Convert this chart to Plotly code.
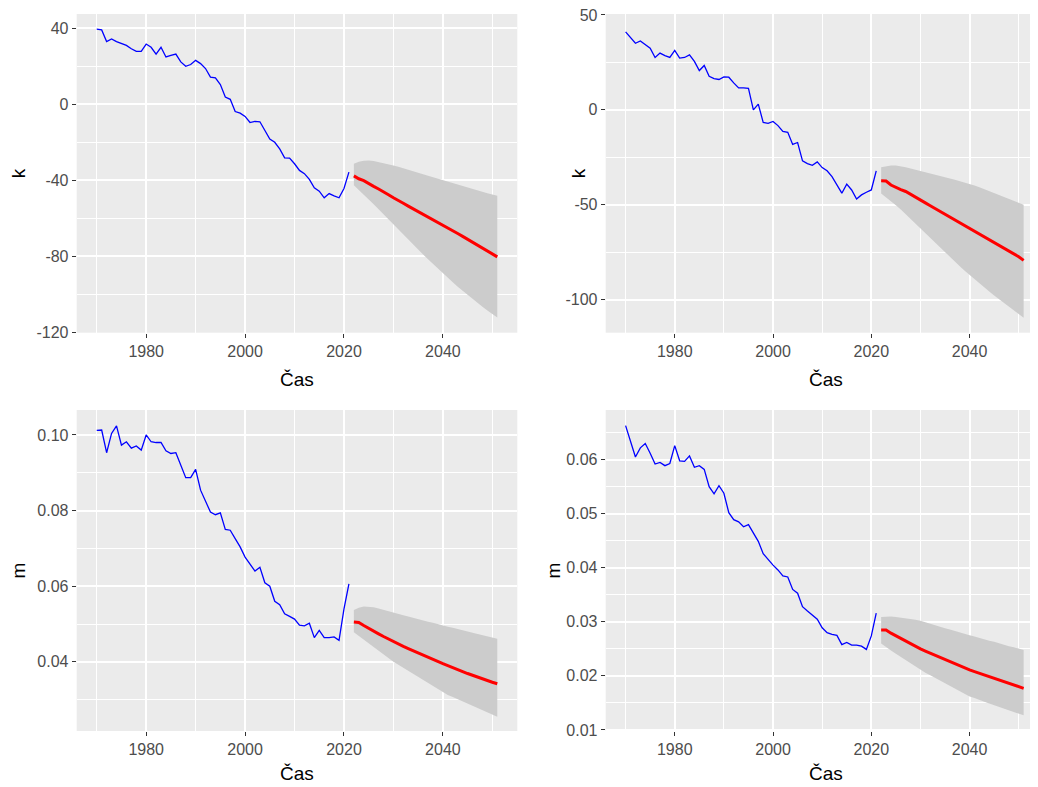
import plotly.graph_objects as go

# ---------------- data ----------------
years_hist = list(range(1970, 2022))
years_fc = list(range(2022, 2052))

k1_hist = [39.5, 39.1, 33.0, 34.4, 33.0, 32.2, 31.0, 29.2, 27.8, 27.8,
           31.7, 30.0, 26.4, 30.0, 24.9, 25.7, 26.4, 22.3, 20.0, 20.9,
           23.1, 21.4, 18.8, 14.3, 13.9, 10.4, 3.8, 2.6, -3.8, -4.7,
           -6.4, -9.6, -9.0, -9.2, -13.9, -18.3, -20.0, -23.5, -28.2, -28.3,
           -31.3, -34.8, -36.5, -39.5, -44.0, -45.7, -49.2, -47.0, -48.2, -49.2,
           -44.3, -35.7]
k1_fc = [-37.7, -39.2, -40.2, -41.9, -43.2, -44.6, -46.3, -47.6, -49.2, -50.5,
         -52.1, -53.6, -55.0, -56.6, -57.9, -59.5, -60.8, -62.3, -63.5, -65.0,
         -66.6, -68.0, -69.5, -71.0, -72.4, -74.0, -75.5, -76.9, -78.6, -80.3]
k1_hi = [-31.3, -30.2, -29.7, -29.6, -29.9, -30.4, -31.0, -31.6, -32.2, -32.9,
         -33.6, -34.4, -35.2, -36.0, -36.8, -37.6, -38.4, -39.2, -40.0, -40.8,
         -41.5, -42.3, -43.0, -43.8, -44.5, -45.3, -46.0, -46.8, -47.5, -48.2]
k1_lo = [-42.6, -45.0, -47.5, -50.0, -52.6, -55.2, -57.9, -60.6, -63.3, -66.0,
         -68.6, -71.2, -73.8, -76.4, -79.0, -81.6, -84.1, -86.6, -89.0, -91.4,
         -93.7, -96.0, -98.2, -100.4, -102.5, -104.6, -106.6, -108.5, -110.4, -112.2]

k2_hist = [41.1, 38.0, 35.1, 36.3, 34.5, 32.5, 27.6, 29.9, 28.6, 27.6,
           31.3, 27.3, 27.6, 29.0, 25.5, 20.7, 23.4, 17.7, 16.5, 16.0,
           17.4, 17.2, 14.2, 11.6, 11.6, 11.3, 0.0, 3.0, -6.6, -7.1,
           -6.1, -8.3, -11.3, -11.8, -18.2, -17.2, -26.9, -28.3, -29.2, -27.4,
           -30.4, -32.1, -35.2, -39.6, -43.9, -39.1, -42.2, -47.0, -44.8, -43.4,
           -42.2, -32.1]
k2_fc = [-37.4, -37.5, -39.6, -40.9, -42.0, -43.0, -44.6, -46.0, -47.6, -49.0,
         -50.5, -52.0, -53.4, -55.0, -56.4, -58.0, -59.4, -60.9, -62.3, -63.8,
         -65.3, -66.7, -68.2, -69.7, -71.2, -72.6, -74.1, -75.6, -77.4, -79.3]
k2_hi = [-30.2, -29.6, -29.3, -29.3, -29.7, -30.2, -30.9, -31.5, -32.2, -32.8,
         -33.5, -34.1, -34.8, -35.5, -36.1, -36.8, -37.5, -38.1, -38.8, -39.8,
         -40.8, -41.8, -42.8, -43.8, -44.8, -45.9, -46.9, -47.9, -48.9, -50.0]
k2_lo = [-44.0, -46.0, -48.0, -50.2, -52.5, -55.0, -57.6, -60.2, -62.9, -65.4,
         -67.9, -70.4, -72.8, -75.2, -77.6, -80.0, -82.4, -84.7, -87.0, -89.3,
         -91.5, -93.6, -95.7, -97.8, -99.8, -101.8, -103.8, -105.7, -107.6, -109.5]

m1_hist = [0.1012, 0.1013, 0.0953, 0.1004, 0.1024, 0.0973, 0.0982, 0.0965, 0.0971, 0.0960,
           0.1000, 0.0982, 0.0980, 0.0980, 0.0958, 0.0951, 0.0953, 0.0920, 0.0887, 0.0887,
           0.0909, 0.0854, 0.0827, 0.0796, 0.0789, 0.0794, 0.0750, 0.0748, 0.0726, 0.0704,
           0.0677, 0.0659, 0.0640, 0.0650, 0.0609, 0.0600, 0.0560, 0.0551, 0.0527, 0.0520,
           0.0513, 0.0497, 0.0495, 0.0502, 0.0464, 0.0483, 0.0464, 0.0464, 0.0466, 0.0457,
           0.0540, 0.0606]
m1_fc = [0.0505, 0.0504, 0.0496, 0.0488, 0.0481, 0.0474, 0.0467, 0.0460, 0.0453, 0.0447,
         0.0441, 0.0435, 0.0429, 0.0423, 0.0417, 0.0411, 0.0405, 0.0400, 0.0395, 0.0390,
         0.0384, 0.0379, 0.0374, 0.0369, 0.0364, 0.0359, 0.0355, 0.0350, 0.0346, 0.0342]
m1_hi = [0.0537, 0.0543, 0.0546, 0.0546, 0.0544, 0.0541, 0.0537, 0.0534, 0.0530, 0.0527,
         0.0523, 0.0520, 0.0516, 0.0513, 0.0510, 0.0506, 0.0503, 0.0499, 0.0496, 0.0493,
         0.0490, 0.0486, 0.0483, 0.0480, 0.0477, 0.0474, 0.0470, 0.0467, 0.0464, 0.0461]
m1_lo = [0.0478, 0.0468, 0.0458, 0.0448, 0.0438, 0.0428, 0.0419, 0.0409, 0.0400, 0.0392,
         0.0384, 0.0375, 0.0367, 0.0359, 0.0351, 0.0342, 0.0334, 0.0326, 0.0318, 0.0312,
         0.0307, 0.0301, 0.0295, 0.0290, 0.0284, 0.0278, 0.0272, 0.0267, 0.0261, 0.0255]

m2_hist = [0.0663, 0.0634, 0.0605, 0.0622, 0.0630, 0.0612, 0.0592, 0.0595, 0.0589, 0.0593,
           0.0626, 0.0598, 0.0597, 0.0607, 0.0586, 0.0589, 0.0582, 0.0550, 0.0537, 0.0552,
           0.0538, 0.0502, 0.0489, 0.0485, 0.0476, 0.0480, 0.0465, 0.0449, 0.0426, 0.0415,
           0.0405, 0.0396, 0.0385, 0.0383, 0.0360, 0.0353, 0.0328, 0.0320, 0.0313, 0.0305,
           0.0289, 0.0280, 0.0277, 0.0275, 0.0258, 0.0262, 0.0257, 0.0257, 0.0255, 0.0249,
           0.0274, 0.0316]
m2_fc = [0.0285, 0.0285, 0.0279, 0.0274, 0.0270, 0.0265, 0.0260, 0.0255, 0.0250, 0.0246,
         0.0242, 0.0238, 0.0234, 0.0230, 0.0226, 0.0222, 0.0218, 0.0214, 0.0211, 0.0208,
         0.0205, 0.0202, 0.0199, 0.0195, 0.0192, 0.0189, 0.0186, 0.0183, 0.0180, 0.0177]
m2_hi = [0.0309, 0.0310, 0.0310, 0.0309, 0.0308, 0.0307, 0.0306, 0.0304, 0.0302, 0.0299,
         0.0296, 0.0294, 0.0291, 0.0288, 0.0286, 0.0283, 0.0280, 0.0278, 0.0275, 0.0273,
         0.0270, 0.0268, 0.0265, 0.0263, 0.0260, 0.0258, 0.0255, 0.0253, 0.0250, 0.0248]
m2_lo = [0.0260, 0.0253, 0.0247, 0.0241, 0.0235, 0.0229, 0.0223, 0.0217, 0.0211, 0.0206,
         0.0201, 0.0196, 0.0191, 0.0186, 0.0181, 0.0176, 0.0171, 0.0166, 0.0162, 0.0159,
         0.0155, 0.0152, 0.0149, 0.0146, 0.0143, 0.0139, 0.0136, 0.0133, 0.0130, 0.0127]

x_tickvals = [1980, 2000, 2020, 2040]
x_ticktext = ["1980", "2000", "2020", "2040"]
k1_tickvals = [40, 0, -40, -80, -120]
k1_ticktext = ["40", "0", "-40", "-80", "-120"]
k2_tickvals = [50, 0, -50, -100]
k2_ticktext = ["50", "0", "-50", "-100"]
m1_tickvals = [0.04, 0.06, 0.08, 0.10]
m1_ticktext = ["0.04", "0.06", "0.08", "0.10"]
m2_tickvals = [0.01, 0.02, 0.03, 0.04, 0.05, 0.06]
m2_ticktext = ["0.01", "0.02", "0.03", "0.04", "0.05", "0.06"]

x_title = "Čas"

# ---------------- figure ----------------
# the page body has an 8px margin, so the figure is placed at (8, 8)
OFF = 8
W, H = 1030, 779
fig = go.Figure()

def fx(px):
    return min(max((px - OFF) / W, 0.0), 1.0)

def fy(py):
    return min(max(1 - (py - OFF) / H, 0.0), 1.0)

panels = [
    (k1_hist, k1_fc, k1_hi, k1_lo, "k", k1_tickvals, k1_ticktext, [-120.2, 47.5], 20, 20,
     (76.7, 517.3), (14, 332.7), [1965.95, 2055.05], 18, 297, 379),
    (k2_hist, k2_fc, k2_hi, k2_lo, "k", k2_tickvals, k2_ticktext, [-117.4, 50.5], 25, 25,
     (605.7, 1038), (14, 332.7), [1965.95, 2053.92], 578, 826, 379),
    (m1_hist, m1_fc, m1_hi, m1_lo, "m", m1_tickvals, m1_ticktext, [0.0217, 0.1066], 0.01, 0.03,
     (76.7, 517.3), (410, 731), [1965.95, 2055.05], 18, 297, 773),
    (m2_hist, m2_fc, m2_hi, m2_lo, "m", m2_tickvals, m2_ticktext, [0.0098, 0.0692], 0.005, 0.005,
     (605.7, 1038), (410, 731), [1965.95, 2053.92], 553, 826, 773),
]

FONT = "Liberation Sans, Arial, sans-serif"

for i, (hist, fc, hi, lo, ylab, tv, tt, yr, mdt, mt0, xd, yd, xr, ylx, xtx, xty) in enumerate(panels):
    n = "" if i == 0 else str(i + 1)
    xa = "x" + n
    ya = "y" + n
    fig.add_trace(go.Scatter(x=years_fc, y=lo, xaxis=xa, yaxis=ya, mode="lines",
                             line=dict(width=0, color="rgba(0,0,0,0)"), showlegend=False,
                             hoverinfo="skip"))
    fig.add_trace(go.Scatter(x=years_fc, y=hi, xaxis=xa, yaxis=ya, mode="lines",
                             line=dict(width=0, color="rgba(0,0,0,0)"), fill="tonexty",
                             fillcolor="rgb(204,204,204)", showlegend=False, hoverinfo="skip"))
    fig.add_trace(go.Scatter(x=years_hist, y=hist, xaxis=xa, yaxis=ya, mode="lines",
                             line=dict(color="#0000FF", width=1.3), showlegend=False))
    fig.add_trace(go.Scatter(x=years_fc, y=fc, xaxis=xa, yaxis=ya, mode="lines",
                             line=dict(color="#FF0000", width=3), showlegend=False))

    common = dict(showline=False, zeroline=False, showgrid=True, gridcolor="white",
                  gridwidth=1.6, ticks="outside", ticklen=4, tickwidth=1.1,
                  tickcolor="#333333", automargin=False, ticklabeloverflow="allow",
                  tickfont=dict(family=FONT, size=16, color="#4D4D4D"))
    xaxis = dict(common, domain=[fx(xd[0]), fx(xd[1])], range=xr, tickmode="array",
                 tickvals=x_tickvals, ticktext=x_ticktext, anchor=ya,
                 minor=dict(tickmode="linear", tick0=1970, dtick=10, showgrid=True,
                            gridcolor="white", gridwidth=0.8, ticks=""))
    yaxis = dict(common, domain=[fy(yd[1]), fy(yd[0])], range=yr, tickmode="array",
                 tickvals=tv, ticktext=tt, anchor=xa,
                 minor=dict(tickmode="linear", tick0=mt0, dtick=mdt, showgrid=True,
                            gridcolor="white", gridwidth=0.8, ticks=""))
    fig.layout["xaxis" + n] = xaxis
    fig.layout["yaxis" + n] = yaxis

    fig.add_annotation(x=fx(xtx), y=fy(xty), xref="paper", yref="paper",
                       text=x_title, showarrow=False, xanchor="center", yanchor="middle",
                       font=dict(family=FONT, size=19, color="black"))
    fig.add_annotation(x=fx(ylx), y=fy((yd[0] + yd[1]) / 2), xref="paper",
                       yref="paper", text=ylab, showarrow=False, textangle=-90,
                       xanchor="center", yanchor="middle",
                       font=dict(family=FONT, size=19, color="black"))

fig.update_layout(width=W, height=H, margin=dict(l=0, r=0, t=0, b=0, pad=0),
                  autosize=False,
                  paper_bgcolor="white", plot_bgcolor="#EBEBEB", showlegend=False)

fig.write_html("out.html")
